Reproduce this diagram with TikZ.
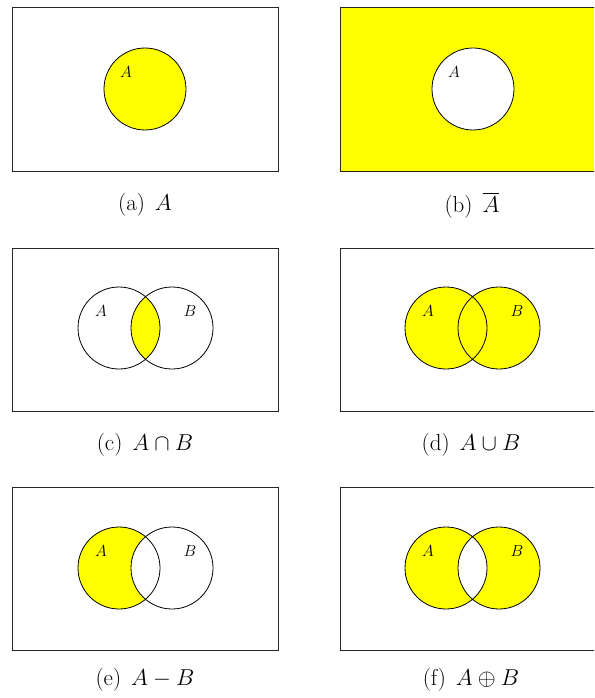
\documentclass[tikz,border=0pt]{standalone}
\usepackage{amsmath}
\usepackage{fix-cm}
\definecolor{setyellow}{RGB}{255,255,0}
\begin{document}
\begin{tikzpicture}[x=1pt,y=-1pt,
  frame/.style={draw=black!85,line width=0.9pt},
  setc/.style={draw=black,line width=0.8pt},
  setfill/.style={fill=setyellow},
  lbl/.style={font=\fontsize{16}{18}\selectfont,inner sep=0pt},
  captext/.style={font=\fontsize{23}{26}\selectfont,inner sep=0pt}]
\useasboundingbox (0,0) rectangle (594,698);
\clip (0,0) rectangle (594,698);
% (a)
\coordinate (a1) at (145,89);
\draw[frame] (12,7) rectangle (278,171);
\fill[setfill] (a1) circle (41);
\draw[setc] (a1) circle (41);
\node[lbl] (la) at (126,72) {$A$};
\node[captext] (ca) at (145,205) {(a)\hspace{10pt}$A$};
% (b)
\coordinate (b1) at (473,89);
\fill[setfill] (340,7) rectangle (606,171);
\fill[white] (b1) circle (41);
\draw[frame] (340,7) rectangle (606,171);
\draw[setc] (b1) circle (41);
\node[lbl] (lb) at (454,72) {$A$};
\node[captext] (cb) at (472,205) {(b)\hspace{10pt}$\overline{A}$};
% (c)
\coordinate (c1) at (119,328);
\coordinate (c2) at (172,328);
\draw[frame] (12,248) rectangle (278,411);
\begin{scope}
  \clip (c1) circle (41);
  \fill[setfill] (c2) circle (41);
\end{scope}
\draw[setc] (c1) circle (41) (c2) circle (41);
\node[lbl] (lcA) at (101,311) {$A$};
\node[lbl] (lcB) at (190,311) {$B$};
\node[captext] (cc) at (145,445) {(c)\hspace{10pt}$A\cap B$};
% (d)
\coordinate (d1) at (446,328);
\coordinate (d2) at (499,328);
\draw[frame] (340,248) rectangle (606,411);
\fill[setfill] (d1) circle (41) (d2) circle (41);
\draw[setc] (d1) circle (41) (d2) circle (41);
\node[lbl] (ldA) at (428,311) {$A$};
\node[lbl] (ldB) at (517,311) {$B$};
\node[captext] (cd) at (471,445) {(d)\hspace{10pt}$A\cup B$};
% (e)
\coordinate (e1) at (119,568);
\coordinate (e2) at (172,568);
\draw[frame] (12,487) rectangle (278,650);
\fill[setfill] (e1) circle (41);
\fill[white] (e2) circle (41);
\draw[setc] (e1) circle (41) (e2) circle (41);
\node[lbl] (leA) at (101,551) {$A$};
\node[lbl] (leB) at (190,551) {$B$};
\node[captext] (ce) at (145,680) {(e)\hspace{10pt}$A-B$};
% (f)
\coordinate (f1) at (446,568);
\coordinate (f2) at (499,568);
\draw[frame] (340,487) rectangle (606,650);
\fill[setfill,even odd rule] (f1) circle (41) (f2) circle (41);
\draw[setc] (f1) circle (41) (f2) circle (41);
\node[lbl] (lfA) at (428,551) {$A$};
\node[lbl] (lfB) at (517,551) {$B$};
\node[captext] (cf) at (471,680) {(f)\hspace{10pt}$A\oplus B$};
\end{tikzpicture}
\end{document}
